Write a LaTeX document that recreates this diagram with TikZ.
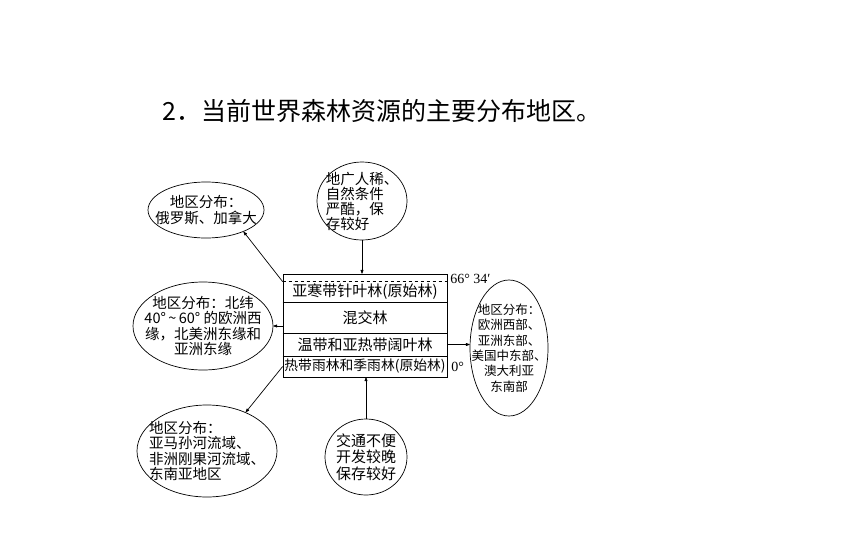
\documentclass[tikz,border=0pt]{standalone}
\usepackage{fontspec}
\setmainfont{Noto Sans CJK SC}
\newfontfamily\latfont{Liberation Serif}
\usetikzlibrary{arrows.meta,shapes.geometric}

\begin{document}
\begin{tikzpicture}[x=1pt,y=-1pt,line width=0.7pt,
	region/.style={ellipse,draw,inner sep=-20pt,align=center,font=\fontsize{14.5}{15.5}\selectfont},
	zone/.style={rectangle,minimum width=164pt,inner sep=0pt,font=\fontsize{15}{15}\selectfont},
	lat/.style={anchor=west,inner sep=0pt,font=\latfont\fontsize{14}{14}\selectfont},
	link/.style={-{Latex[round,length=5pt,width=3.5pt]}}]
	\useasboundingbox (0,0) rectangle (861,538);
	\node (title) at (382,111) [font=\fontsize{25}{25}\selectfont] {2．当前世界森林资源的主要分布地区。};
	% forest belts
	\node (box) at (365,325.5) [draw,minimum width=164pt,minimum height=103pt,inner sep=0pt] {};
	\node (r1) at (365,292) [zone,minimum height=20pt] {亚寒带针叶林(原始林)};
	\node (r2) at (365,317.5) [zone,minimum height=31pt] {混交林};
	\node (r3) at (365,344.5) [zone,minimum height=23pt] {温带和亚热带阔叶林};
	\node (r4) at (365,366.5) [zone,minimum height=21pt,font=\fontsize{13.8}{14}\selectfont] {热带雨林和季雨林(原始林)};
	\draw [dashed] (r1.north west) -- (r1.north east);
	\draw (r1.south west) -- (r1.south east);
	\draw (r2.south west) -- (r2.south east);
	\draw (r3.south west) -- (r3.south east);
	\node (lat66) at (450,279) [lat] {66° 34′};
	\node (lat0) at (451,367) [lat] {0°};
	% regions
	\node (e1) at (206,210) [region,minimum width=116pt,minimum height=56pt] {地区分布：\\俄罗斯、加拿大};
	\node (c1) at (362,201) [region,minimum width=90pt,minimum height=78pt,align=left,font=\fontsize{14.5}{15}\selectfont] {地广人稀、\\自然条件\\严酷，保\\存较好};
	\node (e2) at (203,326) [region,minimum width=140pt,minimum height=88pt] {地区分布：北纬\\40°\,\textasciitilde\,60° 的欧洲西\\缘，北美洲东缘和\\亚洲东缘};
	\node (e3) at (509,348) [region,minimum width=78pt,minimum height=136pt,font=\fontsize{12.5}{15.4}\selectfont] {地区分布：\\欧洲西部、\\亚洲东部、\\美国中东部、\\澳大利亚\\东南部};
	\node (e4) at (207,451) [region,minimum width=140pt,minimum height=92pt,align=left] {地区分布：\\亚马孙河流域、\\非洲刚果河流域、\\东南亚地区};
	\node (c2) at (366,457) [region,minimum width=82pt,minimum height=76pt,font=\fontsize{15}{16.5}\selectfont] {交通不便\\开发较晚\\保存较好};
	\draw [link] (c1.south) -- (c1.south |- box.north);
	\draw [link] (r1.north west) -- (e1.-30);
	\draw [link] (e2.east -| box.west) -- (e2.east);
	\draw [link] (r3.east) -- (r3.east -| e3.west);
	\draw [link] (r4.west) -- (e4.45);
	\draw [link] (c2.north) -- (c2.north |- box.south);
\end{tikzpicture}
\end{document}
